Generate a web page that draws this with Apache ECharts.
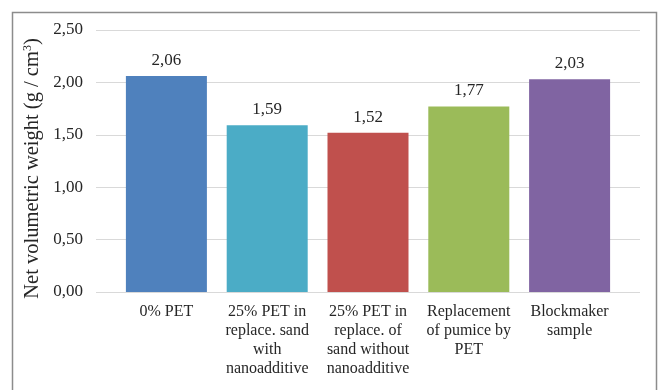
<!DOCTYPE html>
<html>
<head>
<meta charset="utf-8">
<script src="https://cdn.jsdelivr.net/npm/echarts@6/dist/echarts.min.js"></script>
<style>
  html, body { margin: 0; padding: 0; background: #fff; }
  #chart { width: 661px; height: 390px; }
</style>
</head>
<body>
<div id="chart"></div>
<script>
// Net volumetric weight per mix
const categories = [
  '0% PET',
  '25% PET in\nreplace. sand\nwith\nnanoadditive',
  '25% PET in\nreplace. of\nsand without\nnanoadditive',
  'Replacement\nof pumice by\nPET',
  'Blockmaker\nsample'
];
const weights = [2.06, 1.59, 1.52, 1.77, 2.03];
const barColors = ['#4F81BD', '#4BACC6', '#C0504D', '#9BBB59', '#8064A2'];
const yTicks = { min: 0, max: 2.5, interval: 0.5 };
const yTitle = '{t|Net volumetric weight (g / cm}{s|3}{t|)}';

const font = 'Liberation Serif, Times New Roman, serif';
const textColor = '#262626';
const comma = v => Number(v).toFixed(2).replace('.', ',');

const chart = echarts.init(document.getElementById('chart'), null, { renderer: 'canvas' });

chart.setOption({
  animation: false,
  backgroundColor: '#fff',
  graphic: [{
    type: 'rect',
    shape: { x: 12.5, y: 12.5, width: 644, height: 390 },
    style: { fill: 'none', stroke: '#8c8c8c', lineWidth: 1.5 },
    silent: true
  }],
  grid: [
    { left: 96, right: 21, top: 30, bottom: 98 },
    { left: 116, right: 41, top: 30, bottom: 98 }
  ],
  xAxis: [
    { gridIndex: 0, type: 'category', data: categories, show: false },
    {
      gridIndex: 1, type: 'category', data: categories,
      axisLine: { show: false }, axisTick: { show: false },
      axisLabel: {
        interval: 0, margin: 10, color: textColor,
        fontFamily: font, fontSize: 16, lineHeight: 19
      }
    }
  ],
  yAxis: [
    {
      gridIndex: 0, type: 'value',
      min: yTicks.min, max: yTicks.max, interval: yTicks.interval,
      name: yTitle, nameLocation: 'middle', nameGap: 53, nameRotate: 90,
      nameMoveOverlap: false,
      nameTextStyle: {
        color: textColor, fontFamily: font, fontSize: 20.5,
        padding: [0, 15, 0, 0],
        rich: {
          t: { color: textColor, fontFamily: font, fontSize: 20.5 },
          s: { color: textColor, fontFamily: font, fontSize: 12, verticalAlign: 'top', padding: [0, 0, 8, 0] }
        }
      },
      axisLine: { show: false }, axisTick: { show: false },
      axisLabel: {
        margin: 13, color: textColor, fontFamily: font, fontSize: 17,
        formatter: comma
      },
      splitLine: { lineStyle: { color: '#d9d9d9', width: 1 } }
    },
    {
      gridIndex: 1, type: 'value',
      min: yTicks.min, max: yTicks.max, interval: yTicks.interval,
      show: false, splitLine: { show: false }
    }
  ],
  series: [{
    type: 'bar',
    xAxisIndex: 1, yAxisIndex: 1,
    barWidth: 81,
    data: weights.map((v, i) => ({ value: v, itemStyle: { color: barColors[i] } })),
    label: {
      show: true, position: 'top', distance: 7,
      color: textColor, fontFamily: font, fontSize: 17,
      formatter: p => comma(p.value)
    }
  }]
});
</script>
</body>
</html>
